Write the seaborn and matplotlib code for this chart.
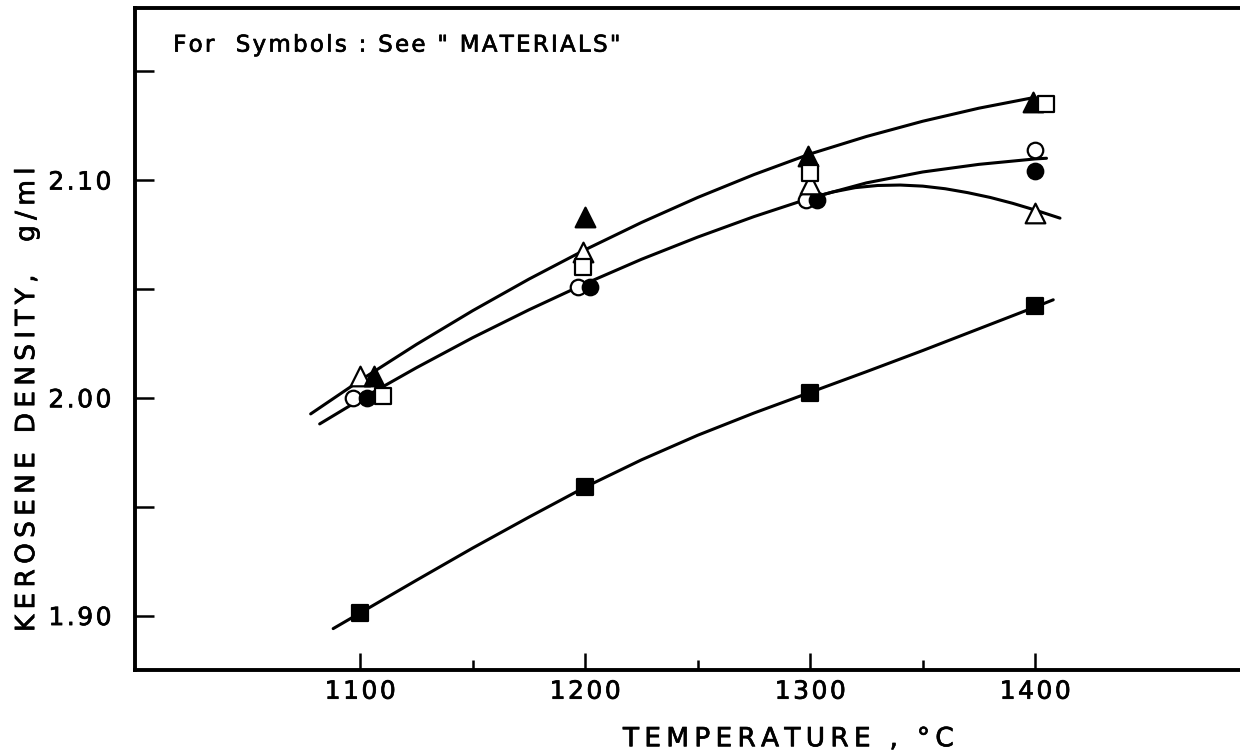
import numpy as np
import matplotlib
matplotlib.use("Agg")
import matplotlib.pyplot as plt
import matplotlib.patheffects as pe
import seaborn as sns

# data (temperature in C, kerosene density in g/ml)
temp_open_circle = [1097, 1197, 1298, 1400]
dens_open_circle = [2.000, 2.051, 2.091, 2.114]

temp_filled_circle = [1103, 1202, 1303, 1400]
dens_filled_circle = [2.000, 2.051, 2.091, 2.104]

temp_open_tri = [1100, 1199, 1300, 1400]
dens_open_tri = [2.010, 2.067, 2.098, 2.085]

temp_filled_tri = [1106, 1200, 1299, 1399]
dens_filled_tri = [2.010, 2.083, 2.111, 2.136]

temp_open_sq = [1110, 1199, 1300, 1405]
dens_open_sq = [2.001, 2.060, 2.103, 2.135]

temp_filled_sq = [1100, 1200, 1300, 1400]
dens_filled_sq = [1.901, 1.959, 2.002, 2.042]

# hand drawn curves
curve_upper_t = [1078, 1100, 1125, 1150, 1175, 1200, 1225, 1250, 1275, 1300, 1325, 1350, 1375, 1400]
curve_upper_d = [1.9926, 2.008, 2.0245, 2.040, 2.0545, 2.068, 2.0805, 2.092, 2.1025, 2.112,
                 2.120, 2.127, 2.133, 2.138]

curve_mid_t = [1082, 1100, 1125, 1150, 1175, 1200, 1225, 1250, 1275, 1300, 1325, 1350, 1375, 1400, 1405]
curve_mid_d = [1.988, 1.9992, 2.0138, 2.0276, 2.0404, 2.0524, 2.0636, 2.0738, 2.0832, 2.0917,
               2.0987, 2.1037, 2.1072, 2.1097, 2.1100]

curve_branch_t = [1300, 1310, 1320, 1330, 1340, 1350, 1360, 1370, 1380, 1390, 1400, 1411]
curve_branch_d = [2.0917, 2.0945, 2.0965, 2.0975, 2.0977, 2.0972, 2.0960, 2.0942, 2.0920,
                  2.0893, 2.0862, 2.0825]

curve_low_t = [1088, 1100, 1125, 1150, 1175, 1200, 1225, 1250, 1275, 1300, 1325, 1350, 1375, 1400, 1408]
curve_low_d = [1.894, 1.9012, 1.9162, 1.9310, 1.9452, 1.9590, 1.9715, 1.9828, 1.9930, 2.0025,
               2.0120, 2.0217, 2.0317, 2.0417, 2.0450]

x_ticks = [1100, 1200, 1300, 1400]
y_ticks = [1.90, 2.00, 2.10]


def spaced(s, gap='\u200a'):
    # letter spacing, the original lettering is wide
    return gap.join(s)


sns.set_style("ticks")
plt.rcParams['font.family'] = ['DejaVu Sans']
plt.rcParams['text.color'] = 'black'
plt.rcParams['axes.labelcolor'] = 'black'

thick = [pe.withStroke(linewidth=0.5, foreground='black')]

fig = plt.figure(figsize=(12.4, 7.55), dpi=100)
ax = fig.add_axes([0.109, 0.1126, 0.891, 0.8768])

for t, d in [(curve_upper_t, curve_upper_d), (curve_mid_t, curve_mid_d),
             (curve_branch_t, curve_branch_d), (curve_low_t, curve_low_d)]:
    sns.lineplot(x=t, y=d, ax=ax, color='black', linewidth=2.2, sort=False, zorder=2)

# (x, y, marker, face, size)
series = [
    (temp_open_circle, dens_open_circle, 'o', 'white', 125),
    (temp_filled_circle, dens_filled_circle, 'o', 'black', 125),
    (temp_open_tri, dens_open_tri, '^', 'white', 200),
    (temp_filled_tri, dens_filled_tri, '^', 'black', 200),
    (temp_open_sq, dens_open_sq, 's', 'white', 125),
    (temp_filled_sq, dens_filled_sq, 's', 'black', 125),
]
for t, d, m, fc, s in series:
    sns.scatterplot(x=t, y=d, ax=ax, marker=m, s=s, color=fc,
                    edgecolor='black', linewidth=1.6, zorder=3)

ax.set_xlim(1000, 1491)
ax.set_ylim(1.875, 2.179)

ax.set_xticks(x_ticks)
ax.set_xticklabels([spaced(str(v)) for v in x_ticks])
ax.set_xticks([1150, 1250, 1350], minor=True)
ax.set_yticks(y_ticks)
ax.set_yticklabels([spaced(f"{v:.2f}") for v in y_ticks])
ax.set_yticks([1.95, 2.05, 2.15], minor=True)

ax.tick_params(axis='both', which='both', direction='in', width=1.8,
               labelsize=18, colors='black')
ax.tick_params(axis='x', which='major', length=12, pad=7)
ax.tick_params(axis='x', which='minor', length=7)
ax.tick_params(axis='y', which='both', length=14, pad=17)
for lab in ax.get_xticklabels() + ax.get_yticklabels():
    lab.set_path_effects(thick)

for side in ['left', 'bottom', 'top']:
    ax.spines[side].set_linewidth(2.8)
    ax.spines[side].set_color('black')
ax.spines['right'].set_visible(False)

ax.set_xlabel(spaced("TEMPERATURE , °C", '\u2009'), fontsize=19, path_effects=thick)
ax.set_ylabel(spaced("KEROSENE DENSITY,  g/ml", '\u2009'), fontsize=19, path_effects=thick)
ax.xaxis.set_label_coords(0.591, -0.085)
ax.yaxis.set_label_coords(-0.086, 0.408)

ax.text(0.0344, 0.944, spaced('For  Symbols : See " MATERIALS"'), transform=ax.transAxes,
        fontsize=16.5, ha='left', va='center', path_effects=thick)

plt.savefig("out.png", dpi=100)
